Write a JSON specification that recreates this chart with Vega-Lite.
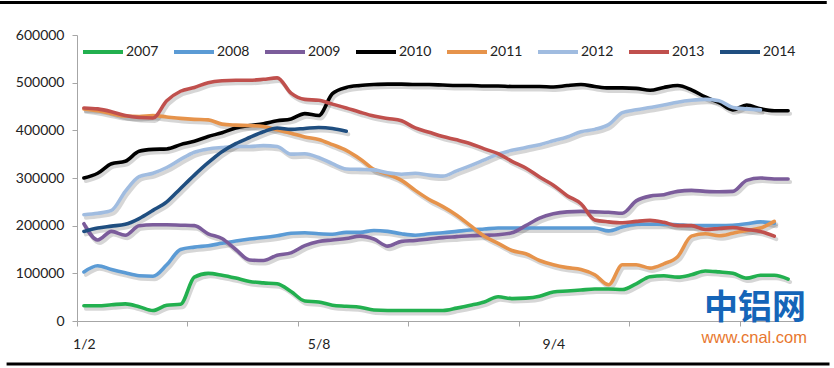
{
  "$schema": "https://vega.github.io/schema/vega-lite/v6.json",
  "width": 718,
  "height": 286,
  "autosize": "none",
  "padding": {"left": 77, "top": 35, "right": 39, "bottom": 47},
  "background": "white",
  "config": {
    "view": {"stroke": null},
    "font": "Lato",
    "axisY": {"labelFont": "Lato", "labelFontSize": 14, "labelColor": "#222", "domainColor": "#a6a6a6", "tickColor": "#a6a6a6", "tickSize": 5, "grid": false, "labelPadding": 8, "title": null}
  },
  "data": {"values": [
    {"year":"2007","week":0,"value":32000},{"year":"2007","week":1,"value":32000},{"year":"2007","week":2,"value":34000},{"year":"2007","week":3,"value":36000},{"year":"2007","week":4,"value":30000},{"year":"2007","week":5,"value":22000},{"year":"2007","week":6,"value":33000},{"year":"2007","week":7,"value":35000},{"year":"2007","week":8,"value":92000},{"year":"2007","week":9,"value":100000},{"year":"2007","week":10,"value":96000},{"year":"2007","week":11,"value":90000},{"year":"2007","week":12,"value":83000},{"year":"2007","week":13,"value":80000},{"year":"2007","week":14,"value":78000},{"year":"2007","week":15,"value":62000},{"year":"2007","week":16,"value":42000},{"year":"2007","week":17,"value":40000},{"year":"2007","week":18,"value":33000},{"year":"2007","week":19,"value":31000},{"year":"2007","week":20,"value":29000},{"year":"2007","week":21,"value":23000},{"year":"2007","week":22,"value":22000},{"year":"2007","week":23,"value":22000},{"year":"2007","week":24,"value":22000},{"year":"2007","week":25,"value":22000},{"year":"2007","week":26,"value":22000},{"year":"2007","week":27,"value":27000},{"year":"2007","week":28,"value":33000},{"year":"2007","week":29,"value":40000},{"year":"2007","week":30,"value":51000},{"year":"2007","week":31,"value":47000},{"year":"2007","week":32,"value":48000},{"year":"2007","week":33,"value":52000},{"year":"2007","week":34,"value":61000},{"year":"2007","week":35,"value":63000},{"year":"2007","week":36,"value":65000},{"year":"2007","week":37,"value":67000},{"year":"2007","week":38,"value":67000},{"year":"2007","week":39,"value":66000},{"year":"2007","week":40,"value":78000},{"year":"2007","week":41,"value":93000},{"year":"2007","week":42,"value":95000},{"year":"2007","week":43,"value":92000},{"year":"2007","week":44,"value":97000},{"year":"2007","week":45,"value":105000},{"year":"2007","week":46,"value":103000},{"year":"2007","week":47,"value":100000},{"year":"2007","week":48,"value":90000},{"year":"2007","week":49,"value":96000},{"year":"2007","week":50,"value":96000},{"year":"2007","week":51,"value":88000},
    {"year":"2008","week":0,"value":103000},{"year":"2008","week":1,"value":116000},{"year":"2008","week":2,"value":108000},{"year":"2008","week":3,"value":101000},{"year":"2008","week":4,"value":95000},{"year":"2008","week":5,"value":94000},{"year":"2008","week":6,"value":118000},{"year":"2008","week":7,"value":150000},{"year":"2008","week":8,"value":155000},{"year":"2008","week":9,"value":158000},{"year":"2008","week":10,"value":163000},{"year":"2008","week":11,"value":168000},{"year":"2008","week":12,"value":172000},{"year":"2008","week":13,"value":175000},{"year":"2008","week":14,"value":179000},{"year":"2008","week":15,"value":184000},{"year":"2008","week":16,"value":185000},{"year":"2008","week":17,"value":183000},{"year":"2008","week":18,"value":182000},{"year":"2008","week":19,"value":186000},{"year":"2008","week":20,"value":186000},{"year":"2008","week":21,"value":190000},{"year":"2008","week":22,"value":188000},{"year":"2008","week":23,"value":183000},{"year":"2008","week":24,"value":180000},{"year":"2008","week":25,"value":183000},{"year":"2008","week":26,"value":185000},{"year":"2008","week":27,"value":188000},{"year":"2008","week":28,"value":191000},{"year":"2008","week":29,"value":193000},{"year":"2008","week":30,"value":195000},{"year":"2008","week":31,"value":195000},{"year":"2008","week":32,"value":195000},{"year":"2008","week":33,"value":195000},{"year":"2008","week":34,"value":195000},{"year":"2008","week":35,"value":195000},{"year":"2008","week":36,"value":195000},{"year":"2008","week":37,"value":195000},{"year":"2008","week":38,"value":189000},{"year":"2008","week":39,"value":197000},{"year":"2008","week":40,"value":203000},{"year":"2008","week":41,"value":203000},{"year":"2008","week":42,"value":203000},{"year":"2008","week":43,"value":202000},{"year":"2008","week":44,"value":200000},{"year":"2008","week":45,"value":200000},{"year":"2008","week":46,"value":200000},{"year":"2008","week":47,"value":201000},{"year":"2008","week":48,"value":204000},{"year":"2008","week":49,"value":208000},{"year":"2008","week":50,"value":205000},
    {"year":"2009","week":0,"value":204000},{"year":"2009","week":1,"value":170000},{"year":"2009","week":2,"value":188000},{"year":"2009","week":3,"value":180000},{"year":"2009","week":4,"value":200000},{"year":"2009","week":5,"value":202000},{"year":"2009","week":6,"value":202000},{"year":"2009","week":7,"value":201000},{"year":"2009","week":8,"value":200000},{"year":"2009","week":9,"value":183000},{"year":"2009","week":10,"value":173000},{"year":"2009","week":11,"value":150000},{"year":"2009","week":12,"value":128000},{"year":"2009","week":13,"value":127000},{"year":"2009","week":14,"value":138000},{"year":"2009","week":15,"value":143000},{"year":"2009","week":16,"value":158000},{"year":"2009","week":17,"value":167000},{"year":"2009","week":18,"value":170000},{"year":"2009","week":19,"value":173000},{"year":"2009","week":20,"value":178000},{"year":"2009","week":21,"value":172000},{"year":"2009","week":22,"value":157000},{"year":"2009","week":23,"value":167000},{"year":"2009","week":24,"value":169000},{"year":"2009","week":25,"value":172000},{"year":"2009","week":26,"value":175000},{"year":"2009","week":27,"value":177000},{"year":"2009","week":28,"value":179000},{"year":"2009","week":29,"value":180000},{"year":"2009","week":30,"value":181000},{"year":"2009","week":31,"value":185000},{"year":"2009","week":32,"value":200000},{"year":"2009","week":33,"value":216000},{"year":"2009","week":34,"value":225000},{"year":"2009","week":35,"value":229000},{"year":"2009","week":36,"value":230000},{"year":"2009","week":37,"value":229000},{"year":"2009","week":38,"value":228000},{"year":"2009","week":39,"value":226000},{"year":"2009","week":40,"value":252000},{"year":"2009","week":41,"value":262000},{"year":"2009","week":42,"value":265000},{"year":"2009","week":43,"value":272000},{"year":"2009","week":44,"value":274000},{"year":"2009","week":45,"value":272000},{"year":"2009","week":46,"value":271000},{"year":"2009","week":47,"value":272000},{"year":"2009","week":48,"value":295000},{"year":"2009","week":49,"value":300000},{"year":"2009","week":50,"value":298000},{"year":"2009","week":51,"value":298000},
    {"year":"2010","week":0,"value":300000},{"year":"2010","week":1,"value":310000},{"year":"2010","week":2,"value":330000},{"year":"2010","week":3,"value":335000},{"year":"2010","week":4,"value":356000},{"year":"2010","week":5,"value":360000},{"year":"2010","week":6,"value":361000},{"year":"2010","week":7,"value":370000},{"year":"2010","week":8,"value":377000},{"year":"2010","week":9,"value":387000},{"year":"2010","week":10,"value":395000},{"year":"2010","week":11,"value":405000},{"year":"2010","week":12,"value":410000},{"year":"2010","week":13,"value":414000},{"year":"2010","week":14,"value":420000},{"year":"2010","week":15,"value":424000},{"year":"2010","week":16,"value":435000},{"year":"2010","week":17,"value":431000},{"year":"2010","week":18,"value":477000},{"year":"2010","week":19,"value":490000},{"year":"2010","week":20,"value":494000},{"year":"2010","week":21,"value":496000},{"year":"2010","week":22,"value":497000},{"year":"2010","week":23,"value":497000},{"year":"2010","week":24,"value":496000},{"year":"2010","week":25,"value":496000},{"year":"2010","week":26,"value":495000},{"year":"2010","week":27,"value":494000},{"year":"2010","week":28,"value":494000},{"year":"2010","week":29,"value":493000},{"year":"2010","week":30,"value":493000},{"year":"2010","week":31,"value":492000},{"year":"2010","week":32,"value":492000},{"year":"2010","week":33,"value":492000},{"year":"2010","week":34,"value":491000},{"year":"2010","week":35,"value":494000},{"year":"2010","week":36,"value":496000},{"year":"2010","week":37,"value":492000},{"year":"2010","week":38,"value":489000},{"year":"2010","week":39,"value":489000},{"year":"2010","week":40,"value":488000},{"year":"2010","week":41,"value":484000},{"year":"2010","week":42,"value":490000},{"year":"2010","week":43,"value":494000},{"year":"2010","week":44,"value":485000},{"year":"2010","week":45,"value":470000},{"year":"2010","week":46,"value":458000},{"year":"2010","week":47,"value":443000},{"year":"2010","week":48,"value":453000},{"year":"2010","week":49,"value":445000},{"year":"2010","week":50,"value":441000},{"year":"2010","week":51,"value":441000},
    {"year":"2011","week":0,"value":445000},{"year":"2011","week":1,"value":441000},{"year":"2011","week":2,"value":435000},{"year":"2011","week":3,"value":430000},{"year":"2011","week":4,"value":429000},{"year":"2011","week":5,"value":431000},{"year":"2011","week":6,"value":428000},{"year":"2011","week":7,"value":425000},{"year":"2011","week":8,"value":423000},{"year":"2011","week":9,"value":422000},{"year":"2011","week":10,"value":413000},{"year":"2011","week":11,"value":411000},{"year":"2011","week":12,"value":410000},{"year":"2011","week":13,"value":408000},{"year":"2011","week":14,"value":401000},{"year":"2011","week":15,"value":394000},{"year":"2011","week":16,"value":386000},{"year":"2011","week":17,"value":381000},{"year":"2011","week":18,"value":370000},{"year":"2011","week":19,"value":358000},{"year":"2011","week":20,"value":340000},{"year":"2011","week":21,"value":318000},{"year":"2011","week":22,"value":308000},{"year":"2011","week":23,"value":295000},{"year":"2011","week":24,"value":274000},{"year":"2011","week":25,"value":255000},{"year":"2011","week":26,"value":240000},{"year":"2011","week":27,"value":222000},{"year":"2011","week":28,"value":200000},{"year":"2011","week":29,"value":178000},{"year":"2011","week":30,"value":163000},{"year":"2011","week":31,"value":148000},{"year":"2011","week":32,"value":141000},{"year":"2011","week":33,"value":127000},{"year":"2011","week":34,"value":118000},{"year":"2011","week":35,"value":112000},{"year":"2011","week":36,"value":108000},{"year":"2011","week":37,"value":97000},{"year":"2011","week":38,"value":76000},{"year":"2011","week":39,"value":118000},{"year":"2011","week":40,"value":118000},{"year":"2011","week":41,"value":111000},{"year":"2011","week":42,"value":120000},{"year":"2011","week":43,"value":135000},{"year":"2011","week":44,"value":178000},{"year":"2011","week":45,"value":183000},{"year":"2011","week":46,"value":179000},{"year":"2011","week":47,"value":184000},{"year":"2011","week":48,"value":190000},{"year":"2011","week":49,"value":195000},{"year":"2011","week":50,"value":209000},
    {"year":"2012","week":0,"value":223000},{"year":"2012","week":1,"value":226000},{"year":"2012","week":2,"value":232000},{"year":"2012","week":3,"value":272000},{"year":"2012","week":4,"value":303000},{"year":"2012","week":5,"value":310000},{"year":"2012","week":6,"value":322000},{"year":"2012","week":7,"value":339000},{"year":"2012","week":8,"value":354000},{"year":"2012","week":9,"value":361000},{"year":"2012","week":10,"value":364000},{"year":"2012","week":11,"value":366000},{"year":"2012","week":12,"value":366000},{"year":"2012","week":13,"value":368000},{"year":"2012","week":14,"value":366000},{"year":"2012","week":15,"value":350000},{"year":"2012","week":16,"value":351000},{"year":"2012","week":17,"value":343000},{"year":"2012","week":18,"value":330000},{"year":"2012","week":19,"value":319000},{"year":"2012","week":20,"value":318000},{"year":"2012","week":21,"value":317000},{"year":"2012","week":22,"value":311000},{"year":"2012","week":23,"value":308000},{"year":"2012","week":24,"value":310000},{"year":"2012","week":25,"value":306000},{"year":"2012","week":26,"value":304000},{"year":"2012","week":27,"value":315000},{"year":"2012","week":28,"value":326000},{"year":"2012","week":29,"value":338000},{"year":"2012","week":30,"value":350000},{"year":"2012","week":31,"value":358000},{"year":"2012","week":32,"value":364000},{"year":"2012","week":33,"value":370000},{"year":"2012","week":34,"value":378000},{"year":"2012","week":35,"value":386000},{"year":"2012","week":36,"value":397000},{"year":"2012","week":37,"value":402000},{"year":"2012","week":38,"value":412000},{"year":"2012","week":39,"value":437000},{"year":"2012","week":40,"value":443000},{"year":"2012","week":41,"value":448000},{"year":"2012","week":42,"value":453000},{"year":"2012","week":43,"value":459000},{"year":"2012","week":44,"value":463000},{"year":"2012","week":45,"value":465000},{"year":"2012","week":46,"value":462000},{"year":"2012","week":47,"value":448000},{"year":"2012","week":48,"value":445000},{"year":"2012","week":49,"value":443000},
    {"year":"2013","week":0,"value":447000},{"year":"2013","week":1,"value":445000},{"year":"2013","week":2,"value":439000},{"year":"2013","week":3,"value":431000},{"year":"2013","week":4,"value":427000},{"year":"2013","week":5,"value":426000},{"year":"2013","week":6,"value":462000},{"year":"2013","week":7,"value":482000},{"year":"2013","week":8,"value":490000},{"year":"2013","week":9,"value":500000},{"year":"2013","week":10,"value":504000},{"year":"2013","week":11,"value":505000},{"year":"2013","week":12,"value":505000},{"year":"2013","week":13,"value":507000},{"year":"2013","week":14,"value":510000},{"year":"2013","week":15,"value":478000},{"year":"2013","week":16,"value":465000},{"year":"2013","week":17,"value":463000},{"year":"2013","week":18,"value":455000},{"year":"2013","week":19,"value":447000},{"year":"2013","week":20,"value":438000},{"year":"2013","week":21,"value":430000},{"year":"2013","week":22,"value":425000},{"year":"2013","week":23,"value":420000},{"year":"2013","week":24,"value":405000},{"year":"2013","week":25,"value":396000},{"year":"2013","week":26,"value":387000},{"year":"2013","week":27,"value":380000},{"year":"2013","week":28,"value":372000},{"year":"2013","week":29,"value":361000},{"year":"2013","week":30,"value":351000},{"year":"2013","week":31,"value":335000},{"year":"2013","week":32,"value":321000},{"year":"2013","week":33,"value":302000},{"year":"2013","week":34,"value":285000},{"year":"2013","week":35,"value":263000},{"year":"2013","week":36,"value":246000},{"year":"2013","week":37,"value":212000},{"year":"2013","week":38,"value":208000},{"year":"2013","week":39,"value":206000},{"year":"2013","week":40,"value":209000},{"year":"2013","week":41,"value":211000},{"year":"2013","week":42,"value":207000},{"year":"2013","week":43,"value":200000},{"year":"2013","week":44,"value":200000},{"year":"2013","week":45,"value":192000},{"year":"2013","week":46,"value":194000},{"year":"2013","week":47,"value":196000},{"year":"2013","week":48,"value":192000},{"year":"2013","week":49,"value":188000},{"year":"2013","week":50,"value":178000},
    {"year":"2014","week":0,"value":188000},{"year":"2014","week":1,"value":195000},{"year":"2014","week":2,"value":199000},{"year":"2014","week":3,"value":203000},{"year":"2014","week":4,"value":215000},{"year":"2014","week":5,"value":232000},{"year":"2014","week":6,"value":250000},{"year":"2014","week":7,"value":278000},{"year":"2014","week":8,"value":306000},{"year":"2014","week":9,"value":332000},{"year":"2014","week":10,"value":355000},{"year":"2014","week":11,"value":372000},{"year":"2014","week":12,"value":385000},{"year":"2014","week":13,"value":397000},{"year":"2014","week":14,"value":405000},{"year":"2014","week":15,"value":402000},{"year":"2014","week":16,"value":404000},{"year":"2014","week":17,"value":406000},{"year":"2014","week":18,"value":404000},{"year":"2014","week":19,"value":398000}
  ]},
  "encoding": {
    "x": {"field": "week", "type": "quantitative",
      "scale": {"domain": [-0.5, 51.5], "nice": false, "zero": false},
      "axis": {"title": null, "grid": false,
        "values": [-0.5, 0, 7.5, 15.5, 17, 23.5, 31.5, 34, 39.5, 47.5],
        "labelExpr": "datum.value == 0 ? '1/2' : datum.value == 17 ? '5/8' : datum.value == 34 ? '9/4' : ''",
        "tickOpacity": {"condition": {"test": "datum.value % 1 == 0", "value": 0}, "value": 1},
        "labelFont": "Lato", "labelFontSize": 14, "labelColor": "#222",
        "labelPadding": 11, "labelFlush": false, "labelOverlap": false, "labelBound": false,
        "domainColor": "#a6a6a6", "tickColor": "#a6a6a6", "tickSize": 5}},
    "y": {"field": "value", "type": "quantitative",
      "scale": {"domain": [0, 600000], "nice": false, "zero": false},
      "axis": {"values": [0, 100000, 200000, 300000, 400000, 500000, 600000], "format": "d", "title": null}}
  },
  "layer": [
    {
      "mark": {"type": "line", "interpolate": "monotone", "color": "#000", "opacity": 0.16, "strokeWidth": 4, "xOffset": 2, "yOffset": 3, "strokeJoin": "round", "strokeCap": "round"},
      "encoding": {"detail": {"field": "year"}}
    },
    {
      "mark": {"type": "line", "interpolate": "monotone", "strokeWidth": 3.6, "strokeJoin": "round", "strokeCap": "round"},
      "encoding": {
        "color": {"field": "year", "type": "nominal",
          "scale": {"domain": ["2007","2008","2009","2010","2011","2012","2013","2014"],
                    "range": ["#22b04f","#5b9bd5","#7b5c9b","#000000","#e6934b","#a0bce0","#c0504d","#1f4e80"]},
          "legend": {"title": null, "orient": "none", "legendX": 4, "legendY": -5, "direction": "horizontal",
            "symbolType": "stroke", "symbolSize": 1600, "symbolStrokeWidth": 4,
            "labelFont": "Lato", "labelFontSize": 14, "labelColor": "#222",
            "labelOffset": 1, "columnPadding": 7, "padding": 0}}
      }
    },
    {
      "data": {"values": [{"week": 48.6, "value": 26000, "label": "中铝网"}]},
      "mark": {"type": "text", "font": "Noto Sans CJK SC", "fontWeight": "bold", "fontSize": 34, "color": "#1565b8", "baseline": "middle", "align": "center"},
      "encoding": {"text": {"field": "label"}}
    },
    {
      "data": {"values": [{"week": 48.55, "value": -36000, "label": "www.cnal.com"}]},
      "mark": {"type": "text", "font": "Liberation Sans", "fontSize": 16.5, "color": "#e8772e", "baseline": "middle", "align": "center"},
      "encoding": {"text": {"field": "label"}}
    },
    {
      "data": {"values": [{"week": -6.1, "week2": 53.8, "value": 668000}, {"week": -5.6, "week2": 54.0, "value": -90000}]},
      "mark": {"type": "rule", "color": "#000", "strokeWidth": 3},
      "encoding": {"x2": {"field": "week2"}}
    }
  ]
}
